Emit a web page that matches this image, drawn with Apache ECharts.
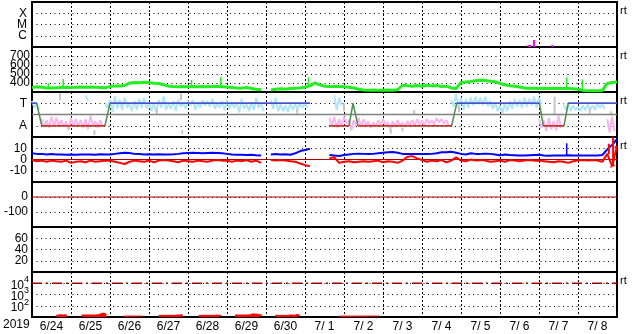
<!DOCTYPE html>
<html><head><meta charset="utf-8">
<script src="https://cdn.jsdelivr.net/npm/echarts@6/dist/echarts.min.js"></script>
<style>html,body{margin:0;padding:0;background:#fff}#c{width:633px;height:334px}</style>
</head><body><div id="c"></div>
<script>
// ---------- labels ----------
const dayLabels = ['6/24','6/25','6/26','6/27','6/28','6/29','6/30','7/ 1','7/ 2','7/ 3','7/ 4','7/ 5','7/ 6','7/ 7','7/ 8'];
const yearLabel = '2019';
const xrayNames = {1:'C', 2:'M', 3:'X'};
const sectorNames = {1:'A', 3:'T'};
const rtLabel = 'rt';
const step = 0.125; // days between samples (3 h)

// ---------- panel 1: X-ray flux class spikes ----------
const xrayT = [12.73, 12.77, 12.87, 13.34];
const xrayV = [0.18, 0.18, 0.62, 0.18];

// ---------- panel 2: solar wind speed (km/s) every 3 h ----------
const speed = [350,358,352,345,345,348,350,352, 350,352,355,352,355,352,350,348,
  360,368,367,372,400,405,403,408, 405,398,395,380,365,360,358,360,
  357,362,358,360,358,362,360,358, 355,350,345,343,350,340,330,325,
  null,322,330,335,332,338,342,345, 355,368,400,380,365,362,360,360,
  358,352,345,330,322,320,322,320, 320,322,320,325,375,370,365,372,
  365,375,368,372,362,365,345,340, 405,412,418,425,430,428,420,415,
  395,380,370,365,355,345,342,343, 340,342,340,342,340,338,340,335,
  330,318,315,315,315,318,395,405, 410];
const speedSpikeT = [0.42, 0.80, 4.09, 4.84, 7.09, 13.71, 14.11];
const speedSpikeV = [396, 444, 433, 463, 463, 463, 441];

// ---------- panel 3: sector (T/A) ----------
const sectorT = [0, 0.12, 0.25, 1.87, 2.0, 7.13, null, 7.62, 8.13, 8.23, 8.36, 10.76, 10.89, 13.01, 13.11, 13.64, 13.75, 15];
const sectorV = [3, 3, 1, 1, 3, 3, null, 1, 1, 3, 1, 1, 3, 3, 1, 1, 3, 3];
const lbStart = [0, 11, 15, 49, 62, 86, 109];
const lbLo = [[2.6,2.4],[3.2],[2.6, 2.2,2.5,2.4,2.6,2.3,2.4,2.6,2.5, 2.3,2.2,2.6,2.4,2.5,2.3,2.7,2.5, 2.8,2.4,2.6,2.8,2.7,2.5,2.6,2.4, 2.5,2.6,2.2,2.5,2.3,2.4,2.6,2.3],
  [2.5,2.3,2.3,2.2,2.4,2.5,2.6,2.6],[2.4,2.8],[2.7,2.5, 2.4,2.6,2.8,2.9,2.8,2.7,2.5,2.3, 2.1,2.3,2.5,2.7,2.6,2.7,2.8,2.6, 2.9],
  [2.4,2.3,2.4,2.3,2.4,2.5,2.4,2.6,2.5]];
const lbHi = [[3.2,3.0],[3.7],[3.0, 3.3,3.6,3.3,3.5,3.0,3.2,3.4,3.5, 3.1,3.0,3.3,3.6,3.0,3.2,3.3,3.0, 3.2,3.3,3.1,3.3,3.2,3.4,3.0,3.2, 3.3,3.1,3.0,3.4,2.9,3.1,3.5,3.0],
  [3.3,3.5,2.9,2.8,3.0,2.9,3.0,3.0],[3.7,3.5],[3.3,3.8, 3.5,3.4,3.5,3.6,3.5,3.6,3.2,3.1, 2.8,3.0,3.2,3.4,3.3,3.5,3.4,3.6, 3.5],
  [3.0,2.9,2.8,2.7,2.8,2.9,2.8,3.0,2.9]];
const pkStart = [2, 61, 104, 118];
const pkLo = [[0.9,0.8,0.9,1.0,0.9,0.6,0.9,1.0,0.8,0.7,1.0,0.8,0.9],
  [1.0,0.8,0.9,1.2,0.6,1.0,0.9,1.0,0.8,0.9,1.0,1.1,0.7,0.9,1.0,0.9,1.1,1.0,1.1,1.0,1.2,1.1,1.3,1.2,1.0],
  [0.8,0.5,0.7,0.6,0.8],[0.4,0.5]];
const pkHi = [[1.6,1.5,1.8,1.7,1.5,1.4,1.7,1.6,1.5,1.6,1.9,1.4,1.5],
  [1.7,1.8,1.6,1.8,1.5,1.5,1.7,1.6,1.4,1.3,1.5,1.6,1.3,1.4,1.5,1.3,1.4,1.5,1.6,1.5,1.6,1.5,1.7,1.6,1.5],
  [1.6,1.5,1.7,1.4,1.9],[1.6,1.8]];
const grayT  = [0.72, 1.6, 3.2, 3.82, 3.85, 6.8, 8.0, 9.2, 9.5, 9.8, 10.95, 13.4, 14.3, 14.85];
const grayLo = [3.3, 0.2, 2.1, 3.3, 0.3, 2.1, 2.3, 0.3, 0.5, 2.0, 2.2, 2.0, 2.1, 2.0];
const grayHi = [3.9, 0.6, 2.5, 3.9, 0.6, 2.5, 3.0, 0.7, 0.8, 2.4, 2.8, 3.6, 2.6, 2.3];

// ---------- panel 4: IMF Bt (blue) and Bz (red), nT, every 3 h ----------
const bt = [5.5,5,5,4.5,4.8,4.5,4.5,4.3, 4.5,4.3,4.5,4.4,4.5,4.3,4.6,4.4,
  4.5,5,5.5,6,5.8,5,4.8,4.5, 4.7,4.5,4.6,4.5,4.5,4.7,5,5.5,
  5.8,6,5.8,5.5,5.8,6,5.8,5.5, 5,4.5,4.2,4.3,4,4.2,3.8,3.5,
  null,4.5,4.8,4.5,4.7,4.2,5.5,7.5, 8.5,9.5,null,6.5,null,4,3.5,3.2,
  4,4.5,5,5.2,5,4.8,5,5.5, 6,6.5,6.7,6,5,5,4.8,4.8,
  5,4.8,5,5.5,6.5,6.5,6.8,6, 5,4.5,5.5,5,5,5.2,5,4.5,
  3.8,4.5,4,3.8,3.5,3.5,3.8,4, 4.2,3.5,3.3,3.5,3.5,3.5,3.8,3.5,
  3.5,3.5,3.5,3.5,3.5,4,9,13, 18];
const bz = [-0.5,-1.5,-1,-2,-1,-1.5,-2,-1, -3,-2,-1.5,-2.5,-1,-2,-1.5,-1,
  -1,-2,-3,-4,-2,-1,-1.5,-2, -1,-2.5,-1,-0.5,-1,-1.5,-2.5,-1,
  -1.5,-2,-1,-1.5,-2,-1,-0.5,-1, -1,-2,-1,-1.5,-0.5,-2,-1,-3,
  null,-0.5,-1,-0.5,-1,-1.5,-2,-3.5, -5,-6,null,-4,null,1,2,-3,
  -2,-1.5,-2.5,-2,-1.5,-2,-1.5,-1, -2.5,-1.5,-2,-3,-1,2.5,3,1,
  -0.5,-2,-1,-1.5,-0.5,-2.5,-1,2, -1,-1.5,0,-1,-0.5,-1,-2,-1.5,
  -1,-2,-0.5,-1,-1.5,-1,-0.5,-1, -1,-1.5,-2,-2.5,-1.5,-2,-3,-1.5,
  -1,-0.5,-1,-0.5,-1,-2,5,-6, 12];
const btSpikeT = [13.71];
const btSpikeV = [14.4];
const bzSpikeT = [14.79, 14.85, 14.90, 14.93, 14.97];
const bzSpikeV = [14, -7, 20, -5, 10];

// ---------- panel 5 / 6: reference levels ----------
const dstRef = 0;
// ---------- panel 7: proton flux bursts ----------
const protonLevel = 1e4;
const protonT = [0.62,0.66,0.70,0.74,0.78,0.82,0.86,0.90,null, 1.64,1.68,1.72,1.76,1.80,1.84,1.88,1.92,null,
  2.81,2.83,null, 3.67,3.71,3.75,3.79,3.83,3.87,null, 4.68,4.72,4.76,4.80,4.84,4.87,null,
  5.54,5.58,5.62,5.66,5.70,5.74,5.78,5.82,5.86,5.90,null, 6.56,6.60,6.64,6.68,6.72,6.76,6.80,6.84,6.87,null, 8.89,8.91];
const protonV = [14,15,14,16,15,15,16,14,null, 15,16,17,19,22,24,20,16,null,
  12,12,null, 14,15,14,15,16,14,null, 14,15,15,14,16,14,null,
  15,16,17,19,18,20,18,16,15,15,null, 14,15,16,15,14,15,17,15,14,null, 12,12];

// ---------- helpers ----------
const FONT = 'Liberation Sans, Arial, sans-serif';
const uniform = arr => arr.map((v,i) => [i*step, v == null ? '-' : v]);
const pairs = (T,V) => T.map((t,i) => (t == null || V[i] == null) ? [T[i-1] + 0.001, '-'] : [t, V[i]]);
const valAt = (arr, t) => { const v = arr[Math.round(t/step)]; return v == null ? 0 : v; };
function spikes(T, V, baseFn) {
  const out = [];
  T.forEach((t,i) => { out.push([t, baseFn(t)], [t, V[i]], [t, '-']); });
  return out;
}
function zigzag(starts, lo, hi) {
  const out = [];
  starts.forEach((s, k) => {
    lo[k].forEach((l, j) => {
      const t = (s + j) * step;
      out.push([t, hi[k][j]], [t + step/2, l]);
    });
    out.push([(s + lo[k].length) * step, '-']);
  });
  return out;
}
function segs(T, V, level) {
  const out = [];
  for (let i = 0; i < T.length - 1; i++) {
    if (V[i] === level && V[i+1] === level) out.push([T[i], level], [T[i+1], level], [T[i+1], '-']);
  }
  return out;
}
function vsegs(T, lo, hi) {
  const out = [];
  T.forEach((t,i) => out.push([t, lo[i]], [t, hi[i]], [t, '-']));
  return out;
}
const line = (k, data, color, width, z, extra) => Object.assign({
  type:'line', xAxisIndex:k, yAxisIndex:k, data, showSymbol:false, symbol:'none',
  lineStyle:{color, width}, itemStyle:{color}, connectNulls:false, z: z || 2, silent:true
}, extra || {});

// ---------- layout ----------
const L = 32, R = 16, TOP = 2, H = 45;
const grids = [], xAxes = [], yAxes = [], series = [];
for (let k = 0; k < 7; k++) {
  grids.push({left:L, right:R, top:TOP + k*H, height:H, show:true, borderColor:'#000', borderWidth:2, backgroundColor:'rgba(0,0,0,0)'});
  xAxes.push({type:'value', gridIndex:k, position:'bottom', min:0, max:15, interval:1,
    axisLine:{show:false}, axisTick:{show:false}, axisLabel:{show:false},
    splitLine:{show:true, lineStyle:{color:'#000', width:1, type:[2,2]}}});
}
xAxes.push({type:'category', gridIndex:6, position:'bottom', offset:0, data:dayLabels, boundaryGap:true,
  axisLine:{show:false}, axisTick:{show:false}, splitLine:{show:false},
  axisLabel:{color:'#000', fontSize:12, fontFamily:FONT, margin:4, interval:0}});

const yBase = (k, o, margin) => Object.assign({
  type:'value', gridIndex:k, axisLine:{show:false}, axisTick:{show:false},
  splitLine:{show:true, lineStyle:{color:'#000', width:1, type:[1,3.5]}},
  axisLabel:{color:'#000', fontSize:12, fontFamily:FONT, margin: margin, showMinLabel:false, showMaxLabel:false}
}, o);
yAxes.push(yBase(0, {min:0, max:4, interval:1}, 5));
yAxes[0].axisLabel.formatter = v => xrayNames[v] || '';
yAxes.push(yBase(1, {min:300, max:800, interval:100}, 2));
yAxes.push(yBase(2, {min:0, max:4, interval:1}, 5));
yAxes[2].axisLabel.formatter = v => sectorNames[v] || '';
yAxes.push(yBase(3, {min:-20, max:20, interval:10}, 5));
yAxes.push(yBase(4, {min:-200, max:100, interval:100}, 4));
yAxes.push(yBase(5, {min:0, max:80, interval:20}, 4));
yAxes.push(yBase(6, {type:'log', logBase:10, min:10, max:1e5}, 3));
yAxes[6].axisLabel.formatter = v => '{b|10}{s|' + Math.round(Math.log10(v)) + '}';
yAxes[6].axisLabel.rich = {b:{fontSize:12, fontFamily:FONT, color:'#000', lineHeight:16, verticalAlign:'bottom'},
  s:{fontSize:9, fontFamily:FONT, color:'#000', lineHeight:16, verticalAlign:'top'}};

// panel 1
series.push(line(0, spikes(xrayT, xrayV, () => 0), '#ff00ff', 2, 3));
// panel 2
series.push(line(1, uniform(speed), '#22ee22', 3, 3));
series.push(line(1, spikes(speedSpikeT, speedSpikeV, t => valAt(speed, t)), '#22ee22', 1.5, 3));
// panel 3
series.push(line(2, zigzag(lbStart, lbLo, lbHi), '#b0e6f6', 2, 2));
series.push(line(2, zigzag(pkStart, pkLo, pkHi), '#f6b6ee', 2, 2));
series.push(line(2, vsegs(grayT, grayLo, grayHi), '#c4c4c4', 2, 2));
series.push(line(2, [[0,2],[15,2]], '#808080', 1.5, 3));
series.push(line(2, pairs(sectorT, sectorV), '#4f8f4f', 1.5, 4));
series.push(line(2, segs(sectorT, sectorV, 3), '#4c4ce0', 1.5, 5));
series.push(line(2, segs(sectorT, sectorV, 1), '#e02828', 1.5, 5));
// panel 4
series.push(line(3, [[0,0],[15,0]], '#b00000', 1, 2));
series.push(line(3, uniform(bt), '#0000ff', 2, 3));
series.push(line(3, spikes(btSpikeT, btSpikeV, t => valAt(bt, t)), '#0000ff', 1.5, 3));
series.push(line(3, uniform(bz), '#ff0000', 2, 4));
series.push(line(3, spikes(bzSpikeT, bzSpikeV, t => valAt(bz, t)), '#ff0000', 2, 4));
// panel 5
series.push(line(4, [[0,dstRef],[15,dstRef]], '#b00000', 1, 3));
// panel 7
series.push(line(6, [[0,protonLevel],[15,protonLevel]], '#a00000', 1.5, 3, {lineStyle:{color:'#a00000', width:1.5, type:[10,4,2,4]}}));
series.push(line(6, pairs(protonT, protonV), '#ff0000', 1, 3, {step:'middle', areaStyle:{color:'#ff0000', opacity:1, origin:'start'}}));

const rtTops = [0, 1, 2, 3, 6];
const graphic = rtTops.map(k => ({type:'text', left:620, top:TOP + k*H + 3, style:{text:rtLabel, font:'11px ' + FONT, fill:'#000'}}));
graphic.push({type:'text', left:3, top:319, style:{text:yearLabel, font:'12px ' + FONT, fill:'#000'}});

const chart = echarts.init(document.getElementById('c'));
chart.setOption({animation:false, backgroundColor:'#fff', grid:grids, xAxis:xAxes, yAxis:yAxes, series, graphic});
</script></body></html>
